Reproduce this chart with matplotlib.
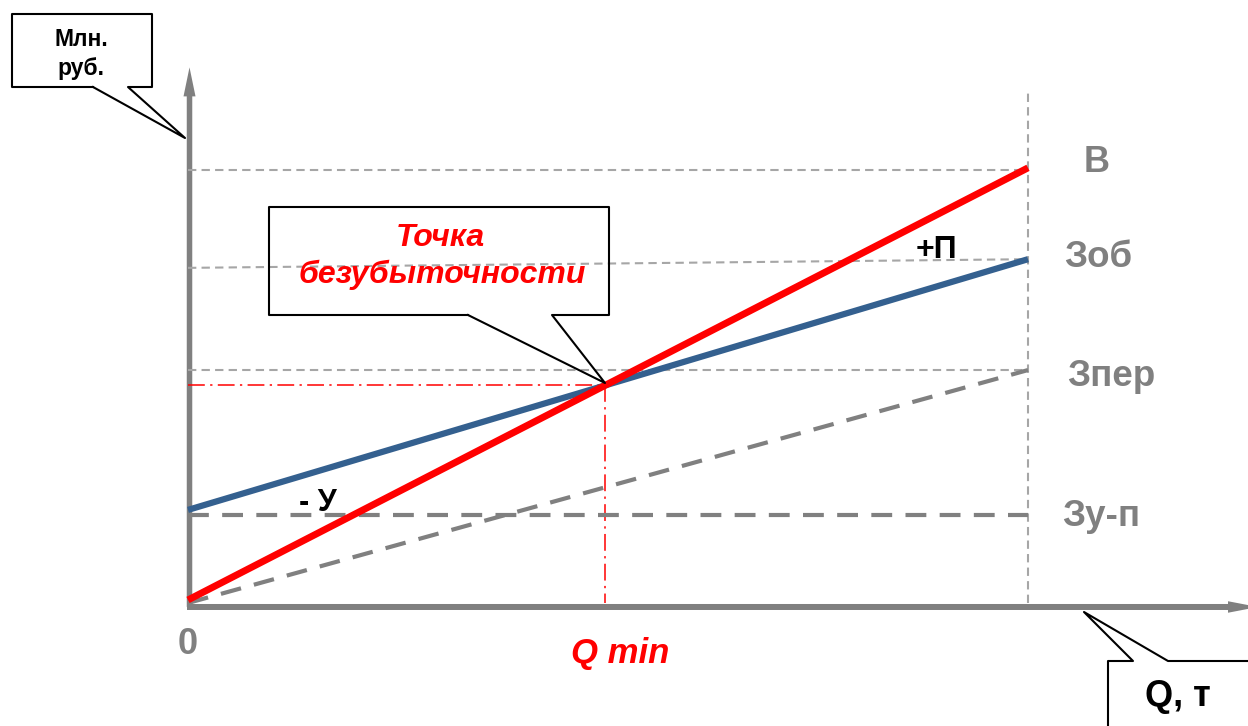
import numpy as np
import matplotlib.pyplot as plt
from matplotlib.lines import Line2D

plt.rcParams['font.family'] = ['Liberation Sans', 'DejaVu Sans']

W, H = 1248, 726

# chart values (Q in % of max volume, money in relative units)
q = np.array([0, 100])
revenue = np.array([0.7, 100.5])      # В
total_cost = np.array([21.5, 79.4])   # Зоб
var_cost = np.array([0.0, 53.8])      # Зпер
fixed_cost = np.array([20.3, 20.3])   # Зу-п
guide_b = np.array([100.0, 100.0])
guide_zob = np.array([77.4, 79.4])
guide_zper = np.array([53.8, 53.8])
q_top = 118.5

# break-even point from the two lines
k_r = (revenue[1] - revenue[0]) / (q[1] - q[0])
k_c = (total_cost[1] - total_cost[0]) / (q[1] - q[0])
q_min = (total_cost[0] - revenue[0]) / (k_r - k_c)
v_min = revenue[0] + k_r * q_min

RED = '#ff0000'
BLUE = '#34608f'
GRAY = '#808080'
LGRAY = '#a6a6a6'

# pixel layout: origin at (188, 603), 8.4 px per Q unit, 4.33 px per money unit
X0, Y0, SX, SY = 188, 603, 8.4, 4.33

fig = plt.figure(figsize=(W / 100, H / 100), dpi=100)
ax = fig.add_axes([0, 0, 1, 1])
ax.set_xlim(-X0 / SX, (W - X0) / SX)
ax.set_ylim(-(H - Y0) / SY, Y0 / SY)
ax.axis('off')


def px(x, y):
    return x / W, 1 - y / H


# thin guides
ax.plot(q, guide_b, color=LGRAY, lw=1.5, dashes=(4, 2.5))
ax.plot(q, guide_zob, color=LGRAY, lw=1.5, dashes=(4, 2.5))
ax.plot(q, guide_zper, color=LGRAY, lw=1.5, dashes=(4, 2.5))
ax.plot([q[1], q[1]], [0, q_top], color=LGRAY, lw=1.5, dashes=(4, 2.5))
ax.plot([0, q_min], [v_min, v_min], color=RED, lw=1.1, dashes=(11, 3.5, 1.5, 3.5))
ax.plot([q_min, q_min], [v_min, 0], color=RED, lw=1.1, dashes=(11, 3.5, 1.5, 3.5))

# cost lines
ax.plot(q, var_cost, color=GRAY, lw=3, dashes=(5, 3.2))
ax.plot(q, fixed_cost, color=GRAY, lw=3, dashes=(5, 3.2))
ax.plot(q, total_cost, color=BLUE, lw=4.5, solid_capstyle='butt')
ax.plot(q, revenue, color=RED, lw=5, solid_capstyle='butt')

# axes with arrows (sizes given in data units of the perpendicular axis)
ax.arrow(0.18, -0.9, 0, 124.6, width=5.5 / SX, head_width=12 / SX, head_length=29 / SY,
         length_includes_head=True, color=GRAY, lw=0)
ax.arrow(0.18 - 2.5 / SX, -0.92, 127.5, 0, width=6 / SY, head_width=11.5 / SY,
         head_length=30 / SX, length_includes_head=True, color=GRAY, lw=0)

# callouts
callouts = [
    [(93, 87), (12, 87), (12, 14), (152, 14), (152, 87), (128, 87), (185, 138), (93, 87)],
    [(468, 315), (269, 315), (269, 207), (609, 207), (609, 315), (552, 315), (605, 383), (468, 315)],
    [(1108, 730), (1108, 661), (1133, 661), (1084, 612), (1168, 661), (1250, 661)],
]
for pts in callouts:
    xs, ys = zip(*[px(a, b) for a, b in pts])
    fig.add_artist(Line2D(xs, ys, color='black', lw=1.5, transform=fig.transFigure))


# labels
def label(x, y, s, size, color, style='normal'):
    fig.text(*px(x, y), s, fontsize=size, color=color, fontweight='bold',
             fontstyle=style, ha='center', va='center')


label(81, 40, 'Млн.', 16.5, 'black')
label(81, 69, 'руб.', 16.5, 'black')
label(440, 238, 'Точка', 23, RED, 'italic')
label(442, 275, 'безубыточности', 23, RED, 'italic')
label(1097, 162, 'В', 26, GRAY)
label(1098, 258, 'Зоб', 26.5, GRAY)
label(1111, 377, 'Зпер', 26.5, GRAY)
label(1101, 516, 'Зу-п', 26.5, GRAY)
label(936, 250, '+П', 23, 'black')
label(318, 503, '- У', 22, 'black')
label(188, 645, '0', 26, GRAY)
label(620, 654, 'Q min', 25, RED, 'italic')
label(1178, 696, 'Q, т', 26, 'black')

fig.savefig('out.png', dpi=100)
